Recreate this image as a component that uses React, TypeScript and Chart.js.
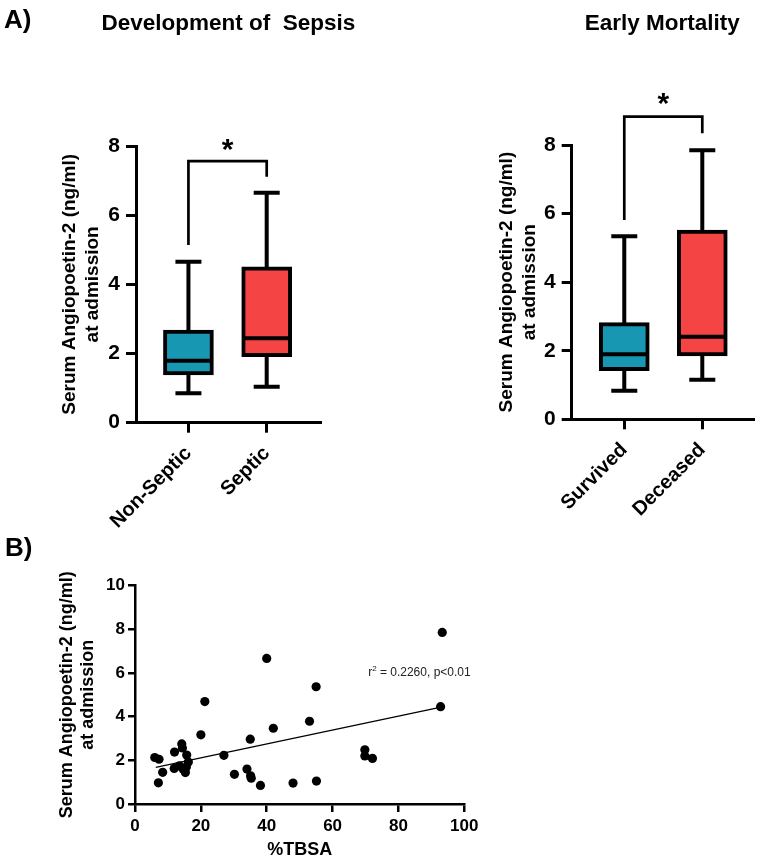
import React, { useEffect, useRef } from 'react';
import { Chart, registerables } from 'chart.js';

Chart.register(...registerables);

const FONT = '"Liberation Sans", Arial, Helvetica, sans-serif';
const W = 760;
const H = 863;

// ---------- Panel A: Development of Sepsis ----------
const sepsisGroups = ['Non-Septic', 'Septic'];
const sepsisMin = [0.85, 1.04];
const sepsisQ1 = [1.38, 1.91];
const sepsisMedian = [1.79, 2.44];
const sepsisQ3 = [2.68, 4.51];
const sepsisMax = [4.65, 6.65];
// left leg end, bracket top, right leg end, star centre
const sepsisBracket = [5.14, 7.56, 7.11, 8.1];

// ---------- Panel A: Early Mortality ----------
const mortalityGroups = ['Survived', 'Deceased'];
const mortalityMin = [0.83, 1.15];
const mortalityQ1 = [1.42, 1.85];
const mortalityMedian = [1.9, 2.41];
const mortalityQ3 = [2.82, 5.52];
const mortalityMax = [5.34, 7.85];
const mortalityBracket = [5.81, 8.83, 8.34, 9.42];

const boxColors = ['#1897b3', '#f54444'];
const boxYTicks = [0, 2, 4, 6, 8];

// ---------- Panel B: %TBSA vs Ang-2 ----------
const tbsa = [
  93.3, 40.0, 55.0, 21.2, 92.8, 53.0, 42.0, 20.0, 35.0, 14.2,
  14.4, 12.0, 69.8, 27.0, 15.7, 69.8, 72.1, 6.0, 7.3, 16.2,
  11.9, 13.5, 14.6, 15.3, 15.6, 34.0, 8.4, 30.2, 35.1, 35.3,
  7.1, 48.0, 55.1, 38.1,
];
const ang2 = [
  7.86, 6.67, 5.37, 4.69, 4.46, 3.79, 3.47, 3.17, 2.97, 2.75,
  2.57, 2.38, 2.48, 2.23, 2.24, 2.20, 2.09, 2.13, 2.05, 1.92,
  1.63, 1.75, 1.60, 1.44, 1.70, 1.60, 1.45, 1.36, 1.29, 1.18,
  0.97, 0.96, 1.05, 0.85,
];
const fitX = [6.3, 92.6];
const fitY = [1.68, 4.43];
const scatterXTicks = [0, 20, 40, 60, 80, 100];
const scatterYTicks = [0, 2, 4, 6, 8, 10];
const annotationText = ['r', '2', ' = 0.2260, p<0.01'];
const annotationPos = [70.8, 5.88];

type BoxLayout = {
  padLeft: number;
  left: number;
  right: number;
  top: number;
  bottom: number;
  xMin: number;
  xMax: number;
};

function boxDecorPlugin(
  title: string,
  mins: number[],
  medians: number[],
  maxs: number[],
  bracket: number[],
  panelLetter: string | null
) {
  return {
    id: 'boxDecor',
    beforeDatasetsDraw(chart: any) {
      const { ctx } = chart;
      const y = chart.scales.y;
      const meta = chart.getDatasetMeta(0);
      ctx.save();
      ctx.strokeStyle = '#000';
      ctx.lineWidth = 4;
      ctx.lineCap = 'butt';
      meta.data.forEach((bar: any, i: number) => {
        const cx = bar.x;
        const cap = bar.width * 0.26;
        const yMin = y.getPixelForValue(mins[i]);
        const yMax = y.getPixelForValue(maxs[i]);
        ctx.beginPath();
        ctx.moveTo(cx, yMax);
        ctx.lineTo(cx, yMin);
        ctx.moveTo(cx - cap, yMax);
        ctx.lineTo(cx + cap, yMax);
        ctx.moveTo(cx - cap, yMin);
        ctx.lineTo(cx + cap, yMin);
        ctx.stroke();
      });
      ctx.restore();
    },
    afterDatasetsDraw(chart: any) {
      const { ctx, chartArea } = chart;
      const x = chart.scales.x;
      const y = chart.scales.y;
      const meta = chart.getDatasetMeta(0);
      ctx.save();
      ctx.strokeStyle = '#000';
      ctx.lineWidth = 4;
      meta.data.forEach((bar: any, i: number) => {
        const half = bar.width / 2 - 1;
        const ym = y.getPixelForValue(medians[i]);
        ctx.beginPath();
        ctx.moveTo(bar.x - half, ym);
        ctx.lineTo(bar.x + half, ym);
        ctx.stroke();
      });
      // significance bracket
      const x1 = x.getPixelForValue(1);
      const x2 = x.getPixelForValue(2);
      const yTop = y.getPixelForValue(bracket[1]);
      ctx.lineWidth = 2.7;
      ctx.lineJoin = 'miter';
      ctx.beginPath();
      ctx.moveTo(x1, y.getPixelForValue(bracket[0]));
      ctx.lineTo(x1, yTop);
      ctx.lineTo(x2, yTop);
      ctx.lineTo(x2, y.getPixelForValue(bracket[2]));
      ctx.stroke();
      const starSize = 30;
      ctx.fillStyle = '#000';
      ctx.font = `bold ${starSize}px ${FONT}`;
      ctx.textAlign = 'center';
      ctx.textBaseline = 'alphabetic';
      ctx.fillText('*', (x1 + x2) / 2, y.getPixelForValue(bracket[3]) + 0.56 * starSize);
      // chart title
      ctx.font = `bold 22.5px ${FONT}`;
      ctx.textBaseline = 'middle';
      ctx.fillText(title, (chartArea.left + chartArea.right) / 2, 24);
      if (panelLetter) {
        ctx.font = `bold 26px ${FONT}`;
        ctx.textAlign = 'left';
        ctx.textBaseline = 'alphabetic';
        ctx.fillText(panelLetter, 4, 28);
      }
      ctx.restore();
    },
  };
}

function boxChartConfig(
  title: string,
  groups: string[],
  q1: number[],
  q3: number[],
  mins: number[],
  medians: number[],
  maxs: number[],
  bracket: number[],
  L: BoxLayout,
  panelLetter: string | null
) {
  const XH = 120;
  return {
    type: 'bar',
    data: {
      datasets: [
        {
          data: groups.map((_, i) => ({ x: i + 1, y: [q1[i], q3[i]] })),
          backgroundColor: boxColors,
          borderColor: '#000',
          borderWidth: 4,
          borderSkipped: false,
          barThickness: 50,
        },
      ],
    },
    options: {
      animation: false,
      responsive: false,
      events: [],
      layout: {
        padding: { left: L.padLeft, right: W - L.right, top: L.top, bottom: H - L.bottom - XH },
      },
      plugins: {
        legend: { display: false },
        tooltip: { enabled: false },
        title: { display: false },
      },
      scales: {
        x: {
          type: 'linear',
          offset: false,
          min: L.xMin,
          max: L.xMax,
          afterBuildTicks: (s: any) => {
            s.ticks = groups.map((_, i) => ({ value: i + 1 }));
          },
          afterFit: (s: any) => {
            s.height = XH;
          },
          ticks: {
            callback: (v: number) => groups[Math.round(v) - 1] ?? '',
            minRotation: 45,
            maxRotation: 45,
            color: '#000',
            padding: 9,
            font: { family: FONT, size: 20, weight: 'bold' },
          },
          grid: {
            offset: false,
            drawOnChartArea: false,
            drawTicks: true,
            tickLength: 10,
            color: '#000',
            lineWidth: 3,
          },
          border: { display: true, color: '#000', width: 3 },
        },
        y: {
          type: 'linear',
          min: 0,
          max: 8,
          afterBuildTicks: (s: any) => {
            s.ticks = boxYTicks.map((v) => ({ value: v }));
          },
          afterFit: (s: any) => {
            s.width = L.left - L.padLeft;
          },
          ticks: {
            color: '#000',
            padding: 6,
            font: { family: FONT, size: 21, weight: 'bold' },
          },
          grid: { drawOnChartArea: false, drawTicks: true, tickLength: 10, color: '#000', lineWidth: 3 },
          border: { display: true, color: '#000', width: 3 },
          title: {
            display: true,
            text: ['Serum Angiopoetin-2 (ng/ml)', 'at admission'],
            color: '#000',
            padding: 0,
            font: { family: FONT, size: 19, weight: 'bold', lineHeight: 1.2 },
          },
        },
      },
    },
    plugins: [boxDecorPlugin(title, mins, medians, maxs, bracket, panelLetter)],
  };
}

const scatterDecor = {
  id: 'scatterDecor',
  afterDatasetsDraw(chart: any) {
    const { ctx } = chart;
    const x = chart.scales.x;
    const y = chart.scales.y;
    ctx.save();
    ctx.fillStyle = '#222';
    ctx.textBaseline = 'alphabetic';
    ctx.textAlign = 'left';
    let px = x.getPixelForValue(annotationPos[0]);
    const py = y.getPixelForValue(annotationPos[1]);
    ctx.font = `12px ${FONT}`;
    ctx.fillText(annotationText[0], px, py);
    px += ctx.measureText(annotationText[0]).width;
    ctx.font = `8px ${FONT}`;
    ctx.fillText(annotationText[1], px, py - 5);
    px += ctx.measureText(annotationText[1]).width;
    ctx.font = `12px ${FONT}`;
    ctx.fillText(annotationText[2], px, py);
    ctx.fillStyle = '#000';
    ctx.font = `bold 26px ${FONT}`;
    ctx.fillText('B)', 5, 556);
    ctx.restore();
  },
};

function scatterConfig() {
  const S = { padLeft: 56, left: 135, right: 464.3, top: 585.7, bottom: 804 };
  const XH = 56.8;
  const axisGrid = { drawOnChartArea: false, drawTicks: true, tickLength: 8, color: '#000', lineWidth: 2.5 };
  const axisBorder = { display: true, color: '#000', width: 2.5 };
  const tickFont = { family: FONT, size: 17, weight: 'bold' };
  const titleFont = { family: FONT, size: 18, weight: 'bold', lineHeight: 1.2 };
  return {
    type: 'scatter',
    data: {
      datasets: [
        {
          type: 'scatter',
          data: tbsa.map((v, i) => ({ x: v, y: ang2[i] })),
          pointRadius: 4.6,
          pointBackgroundColor: '#000',
          pointBorderWidth: 0,
        },
        {
          type: 'line',
          data: fitX.map((v, i) => ({ x: v, y: fitY[i] })),
          borderColor: '#000',
          borderWidth: 1.3,
          pointRadius: 0,
          fill: false,
          tension: 0,
        },
      ],
    },
    options: {
      animation: false,
      responsive: false,
      events: [],
      layout: {
        padding: { left: S.padLeft, right: W - S.right, top: S.top, bottom: H - S.bottom - XH },
      },
      plugins: { legend: { display: false }, tooltip: { enabled: false } },
      scales: {
        x: {
          type: 'linear',
          min: 0,
          max: 100,
          afterBuildTicks: (s: any) => {
            s.ticks = scatterXTicks.map((v) => ({ value: v }));
          },
          afterFit: (s: any) => {
            s.height = XH;
          },
          ticks: { color: '#000', padding: 4, maxRotation: 0, font: tickFont },
          grid: axisGrid,
          border: axisBorder,
          title: { display: true, text: '%TBSA', color: '#000', padding: 0, font: titleFont },
        },
        y: {
          type: 'linear',
          min: 0,
          max: 10,
          afterBuildTicks: (s: any) => {
            s.ticks = scatterYTicks.map((v) => ({ value: v }));
          },
          afterFit: (s: any) => {
            s.width = S.left - S.padLeft;
          },
          ticks: { color: '#000', padding: 3, font: tickFont },
          grid: { ...axisGrid, tickLength: 7 },
          border: axisBorder,
          title: {
            display: true,
            text: ['Serum Angiopoetin-2 (ng/ml)', 'at admission'],
            color: '#000',
            padding: 0,
            font: titleFont,
          },
        },
      },
    },
    plugins: [scatterDecor],
  };
}

function ChartCanvas({ make }: { make: () => any }) {
  const ref = useRef<HTMLCanvasElement>(null);
  useEffect(() => {
    if (!ref.current) return;
    const chart = new Chart(ref.current, make());
    return () => chart.destroy();
  }, []);
  return (
    <canvas
      ref={ref}
      width={W}
      height={H}
      style={{ position: 'absolute', left: 0, top: 0, width: W, height: H }}
    />
  );
}

export default function App() {
  return (
    <div style={{ position: 'absolute', left: 0, top: 0, width: W, height: H, background: '#fff', overflow: 'hidden' }}>
      <ChartCanvas
        make={() =>
          boxChartConfig(
            'Development of  Sepsis',
            sepsisGroups,
            sepsisQ1,
            sepsisQ3,
            sepsisMin,
            sepsisMedian,
            sepsisMax,
            sepsisBracket,
            { padLeft: 58.6, left: 136, right: 320.7, top: 146, bottom: 422.7, xMin: 0.33, xMax: 2.69 },
            'A)'
          )
        }
      />
      <ChartCanvas
        make={() =>
          boxChartConfig(
            'Early Mortality',
            mortalityGroups,
            mortalityQ1,
            mortalityQ3,
            mortalityMin,
            mortalityMedian,
            mortalityMax,
            mortalityBracket,
            { padLeft: 495.3, left: 571.7, right: 753, top: 145, bottom: 419.3, xMin: 0.326, xMax: 2.65 },
            null
          )
        }
      />
      <ChartCanvas make={scatterConfig} />
    </div>
  );
}
